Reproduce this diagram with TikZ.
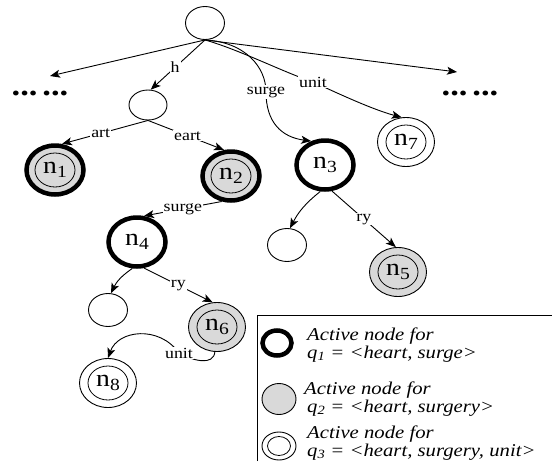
\documentclass[tikz,border=0pt]{standalone}
\usepackage{fontspec}
\setmainfont{Liberation Serif}[FakeStretch=1.15]
\usetikzlibrary{shapes.geometric,arrows.meta}

% node label of the form n with a lowered index
\newcommand{\nlab}[1]{n\raisebox{-4pt}{\fontsize{17}{17}\selectfont #1}}

\tikzset{
  every node/.style={inner sep=0pt},
  trienode/.style={ellipse, draw, line width=0.9pt,
    minimum width=57pt, minimum height=49pt,
    font=\fontsize{24}{24}\selectfont},
  blanknode/.style={ellipse, draw, line width=0.9pt,
    minimum width=39pt, minimum height=33pt},
  boldring/.style={line width=4.5pt},
  grayfill/.style={fill=black!15},
  ringin/.style={path picture={\draw[line width=0.8pt]
      (path picture bounding box.center) ellipse (#1);}},
  ringin/.default={20pt and 17pt},
  arr/.style={line width=0.9pt, -{Stealth[length=10pt,width=8pt,inset=2.5pt]}},
  lbl/.style={fill=white, inner sep=1pt, font=\fontsize{15.5}{15.5}\selectfont},
  dots/.style={font=\bfseries\fontsize{30}{30}\selectfont, anchor=base},
  legtext/.style={anchor=base west, align=left,
    font={\fontsize{18}{14.5}\selectfont\itshape}},
}

\begin{document}
\begin{tikzpicture}[x=1pt,y=1pt]
\useasboundingbox (0,0) rectangle (552,-461);

% trie nodes
\node[blanknode] (root) at (205,-23) {};
\node[blanknode, minimum width=38pt, minimum height=30pt] (hn) at (148,-105) {};
\node[trienode, boldring, grayfill, ringin] (n1) at (55,-170) {\nlab{1}};
\node[trienode, boldring, grayfill, ringin] (n2) at (231,-176) {\nlab{2}};
\node[trienode, boldring] (n3) at (325,-165) {\nlab{3}};
\node[trienode, ringin] (n7) at (406,-142) {\nlab{7}};
\node[trienode, boldring] (n4) at (137,-242) {\nlab{4}};
\node[blanknode] (e3) at (287,-245) {};
\node[trienode, grayfill, ringin] (n5) at (398,-272) {\nlab{5}};
\node[blanknode] (e4) at (108,-310) {};
\node[trienode, grayfill, ringin] (n6) at (217,-327) {\nlab{6}};
\node[trienode, ringin] (n8) at (108,-383) {\nlab{8}};

% elided siblings
\node[dots] (dl) at (40,-95.5) {...\kern5pt...};
\node[dots] (dr) at (470,-95.5) {...\kern5pt...};
\coordinate (tl) at (50,-76);
\coordinate (tr) at (457,-72);

% label points on the curved edges
\coordinate (ws) at (266,-92);
\coordinate (wu) at (313,-82);
\coordinate (w6) at (179,-353);

% edges
\draw[arr] (root.south) -- (tl);
\draw[arr] (root.south) -- (tr);
\draw[arr] (root.south) -- node[lbl,pos=0.55]{h} (hn.80);
\draw[arr] (root.south) .. controls +(40,-2) and +(0,25) .. (ws)
  node[lbl]{surge} .. controls +(0,-30) and +(-30,4) .. (n3.120);
\draw[arr] (root.south) .. controls +(35,-10) and +(-30,10) .. (wu)
  node[lbl]{unit} .. controls +(22,-10) and +(-30,8) .. (n7.100);
\draw[arr] (hn.south) -- node[lbl,pos=0.55]{art} (n1.75);
\draw[arr] (hn.south) -- node[lbl,pos=0.52]{eart} (n2.105);
\draw[arr] (n2.-110) -- node[lbl]{surge} (n4.75);
\draw[arr] (n3.-100) to[bend right=12] (e3.80);
\draw[arr] (n3.-75) -- node[lbl]{ry} (n5.95);
\draw[arr] (n4.-100) to[bend right=15] (e4.80);
\draw[arr] (n4.-75) -- node[lbl]{ry} (n6.100);
\draw[arr] (n6.-95) .. controls +(-1,-14) and +(14,-8) .. (w6)
  node[lbl]{unit} .. controls +(-20,28) and +(10,28) .. (n8.north);

% legend
\draw[line width=0.9pt] (257.5,-461) |- (552,-315.5);
\node[ellipse, draw, line width=4.5pt, minimum width=29pt, minimum height=25pt] (k1) at (277,-343) {};
\node[ellipse, draw, grayfill, line width=0.9pt, minimum width=34pt, minimum height=31pt] (k2) at (279,-399) {};
\node[ellipse, draw, line width=0.9pt, minimum width=34pt, minimum height=28pt, ringin={11.5pt and 9.5pt}] (k3) at (279,-446) {};
\node[legtext] (t1) at (307,-358) {Active node for\\q\textsubscript{1} = <heart, surge>};
\node[legtext] (t2) at (304,-412) {Active node for\\\hspace*{3pt}q\textsubscript{2} = <heart, surgery>};
\node[legtext] (t3) at (307,-456) {Active node for\\q\textsubscript{3} = <heart, surgery, unit>};
\end{tikzpicture}
\end{document}
